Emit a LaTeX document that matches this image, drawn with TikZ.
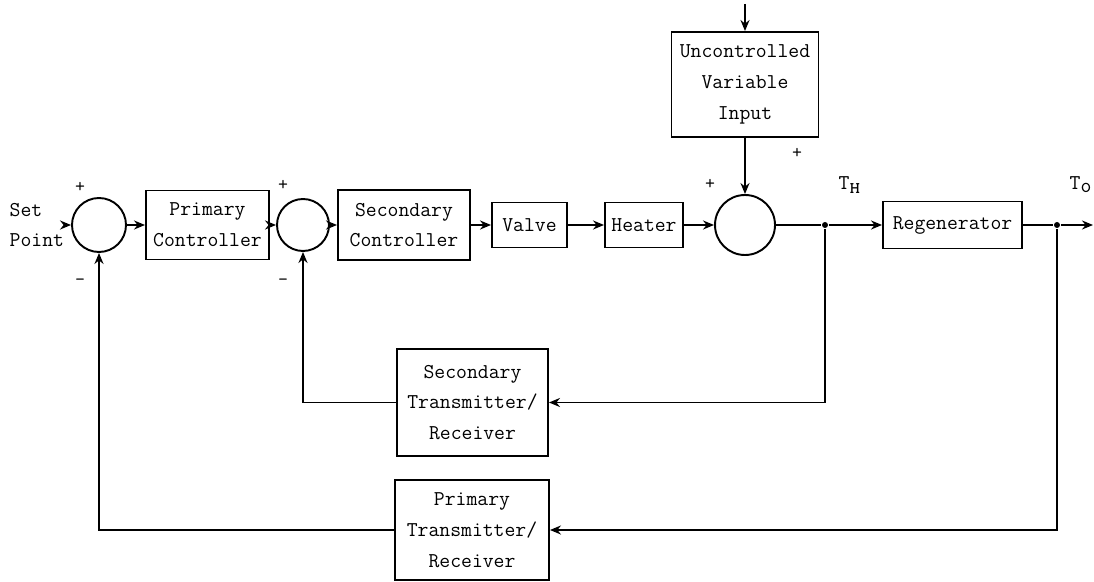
\documentclass[tikz,border=0pt]{standalone}
\usepackage{tikz}
\usetikzlibrary{arrows.meta,positioning}

\begin{document}
\begin{tikzpicture}[
    line width=1.1pt,
    every node/.style={font=\ttfamily\fontsize{12}{17.5}\selectfont},
    blk/.style={rectangle, draw, align=center, inner sep=2pt},
    sm/.style={circle, draw, inner sep=0pt},
    e/.style={-{Stealth[length=2.2mm, width=1.8mm]}},
    sgn/.style={font=\ttfamily\fontsize{11}{12}\selectfont, inner sep=1pt},
    dot/.style={circle, fill, minimum size=1.2mm, inner sep=0pt},
  ]
  \useasboundingbox (0,0) rectangle (21.88,-11.64);
  % forward path
  \node[align=left, anchor=west, inner sep=1pt] (sp) at (0.14, -4.50) {Set\\Point};
  \node[sm, minimum size=10.8mm] (s1) at (1.98, -4.50) {};
  \node[blk, minimum width=24.6mm, minimum height=13.8mm] (pc) at (4.15, -4.50) {Primary\\Controller};
  \node[sm, minimum size=10.4mm] (s2) at (6.06, -4.50) {};
  \node[blk, minimum width=26.4mm, minimum height=14mm] (sc) at (8.08, -4.50) {Secondary\\Controller};
  \node[blk, minimum width=15mm, minimum height=9mm] (valve) at (10.59, -4.50) {Valve};
  \node[blk, minimum width=15.6mm, minimum height=9mm] (heater) at (12.88, -4.50) {Heater};
  \node[sm, minimum size=12mm] (s3) at (14.90, -4.50) {};
  \node[blk, minimum width=29.4mm, minimum height=21mm] (uvi) at (14.90, -1.69) {Uncontrolled\\Variable\\Input};
  \node[blk, minimum width=27.8mm, minimum height=9.4mm] (regen) at (19.05, -4.50) {Regenerator};
  \node[dot] (jh) at (16.50, -4.50) {};
  \node[dot] (jo) at (21.14, -4.50) {};
  \coordinate (in) at (14.90, -0.08);
  \coordinate (out) at (21.86, -4.50);
  % feedback blocks
  \node[blk, minimum width=30.2mm, minimum height=21.4mm] (st) at (9.45, -8.05) {Secondary\\Transmitter/\\Receiver};
  \node[blk, minimum width=30.8mm, minimum height=20mm] (pt) at (9.44, -10.60) {Primary\\Transmitter/\\Receiver};
  % labels
  \node (th) at (17.00, -3.70) {T$_{\textsc{h}}$};
  \node (to) at (21.62, -3.70) {T$_{\texttt{o}}$};
  \node[sgn] at (1.60, -3.74) {+};
  \node[sgn] at (1.60, -5.64) {-};
  \node[sgn] at (5.66, -3.70) {+};
  \node[sgn] at (5.66, -5.64) {-};
  \node[sgn] at (14.20, -3.68) {+};
  \node[sgn] at (15.94, -3.06) {+};
  % connectors
  \draw[e] (sp.east) -- (s1);
  \draw[e] (s1) -- (pc);
  \draw[e] (pc) -- (s2);
  \draw[e] (s2) -- (sc);
  \draw[e] (sc) -- (valve);
  \draw[e] (valve) -- (heater);
  \draw[e] (heater) -- (s3);
  \draw[e] (in) -- (uvi);
  \draw[e] (uvi) -- (s3);
  \draw (s3) -- (jh);
  \draw[e] (jh) -- (regen);
  \draw (regen) -- (jo);
  \draw[e] (jo) -- (out);
  \draw[e] (jh) |- (st.east);
  \draw[e] (st.west) -| (s2.south);
  \draw[e] (jo) |- (pt.east);
  \draw[e] (pt.west) -| (s1.south);
\end{tikzpicture}
\end{document}
